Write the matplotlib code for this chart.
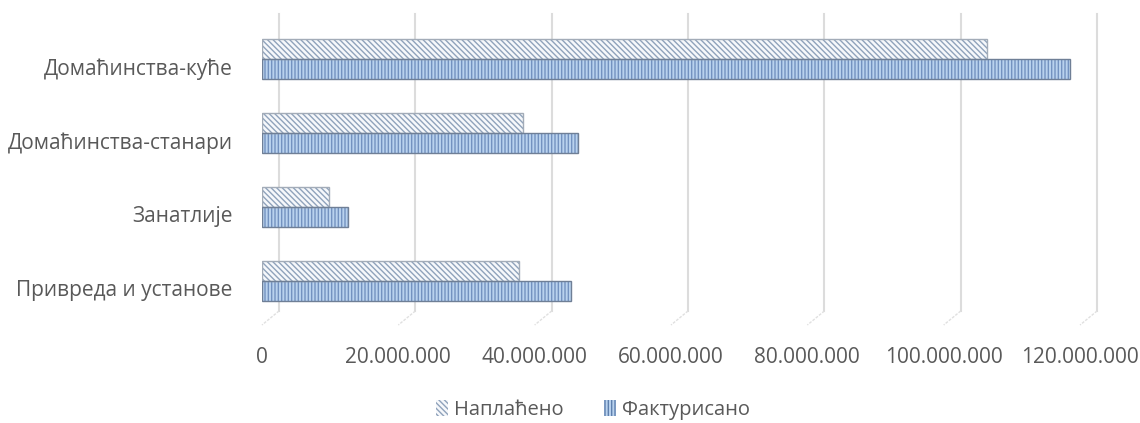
import numpy as np
import matplotlib.pyplot as plt
from matplotlib.patches import Patch
from matplotlib.ticker import FuncFormatter

# data
categories = ['Домаћинства-куће', 'Домаћинства-станари', 'Занатлије', 'Привреда и установе']
naplaceno = [106300000, 38300000, 9800000, 37700000]
fakturisano = [118500000, 46300000, 12600000, 45300000]
xticks = [0, 20000000, 40000000, 60000000, 80000000, 100000000, 120000000]

plt.rcParams['font.family'] = ['Open Sans', 'DejaVu Sans']
plt.rcParams['hatch.linewidth'] = 1.0
text_col = '#595959'
xmax = 120000000

fig = plt.figure(figsize=(11.4, 4.23), dpi=100)
ax = fig.add_axes([0.2298, 1 - 325 / 423, 0.9474 - 0.2298, 311 / 423])

y = np.arange(len(categories))
h = 0.27

# Наплаћено - white with diagonal hatch
ax.barh(y - h / 2, naplaceno, height=h, color='#F6F8FB', edgecolor='#8FA2BB',
        hatch='\\\\\\\\\\\\', linewidth=0, zorder=3)
ax.barh(y - h / 2, naplaceno, height=h, fill=False, edgecolor='#A3ACB8',
        linewidth=1.0, zorder=4)

# Фактурисано - light blue with vertical hatch
ax.barh(y + h / 2, fakturisano, height=h, color='#B9D2EE', edgecolor='#7392C0',
        hatch='|||||', linewidth=0, zorder=3)
ax.barh(y + h / 2, fakturisano, height=h, fill=False, edgecolor='#6F7F96',
        linewidth=1.0, zorder=4)

# back-wall gridlines with a short slanted floor part (3D look)
depth = xmax * 17 / 818
floor = 14 / 311
for t in xticks:
    ax.plot([t + depth, t + depth], [floor, 1], transform=ax.get_xaxis_transform(),
            color='#DCDCDC', linewidth=1.5, zorder=1, clip_on=False)
    ax.plot([t + depth, t], [floor, 0], transform=ax.get_xaxis_transform(),
            color='#E0E0E0', linewidth=1.0, linestyle=(0, (2, 1)), zorder=1, clip_on=False)

ax.set_xlim(0, xmax)
ax.set_ylim(3 + 0.595, -0.608)
ax.set_xticks(xticks)
ax.xaxis.set_major_formatter(FuncFormatter(lambda v, p: f'{int(v):,}'.replace(',', '.')))
ax.set_yticks(y + 0.1)
ax.set_yticklabels(categories)
ax.tick_params(axis='both', length=0, labelsize=15, colors=text_col)
ax.tick_params(axis='x', pad=16)
ax.tick_params(axis='y', pad=21)
for s in ax.spines.values():
    s.set_visible(False)

handles = [
    Patch(facecolor='#F6F8FB', edgecolor='#8FA2BB', hatch='\\\\\\\\\\\\', linewidth=0, label='Наплаћено'),
    Patch(facecolor='#B9D2EE', edgecolor='#5F80AE', hatch='|||||', linewidth=0, label='Фактурисано'),
]
leg = fig.legend(handles=handles, loc='center', bbox_to_anchor=(0.52, 0.031), ncol=2,
                 frameon=False, fontsize=14.5, handlelength=0.6, handleheight=0.9,
                 handletextpad=0.3, columnspacing=2.0)
for t in leg.get_texts():
    t.set_color(text_col)

fig.savefig('out.png', dpi=100)
